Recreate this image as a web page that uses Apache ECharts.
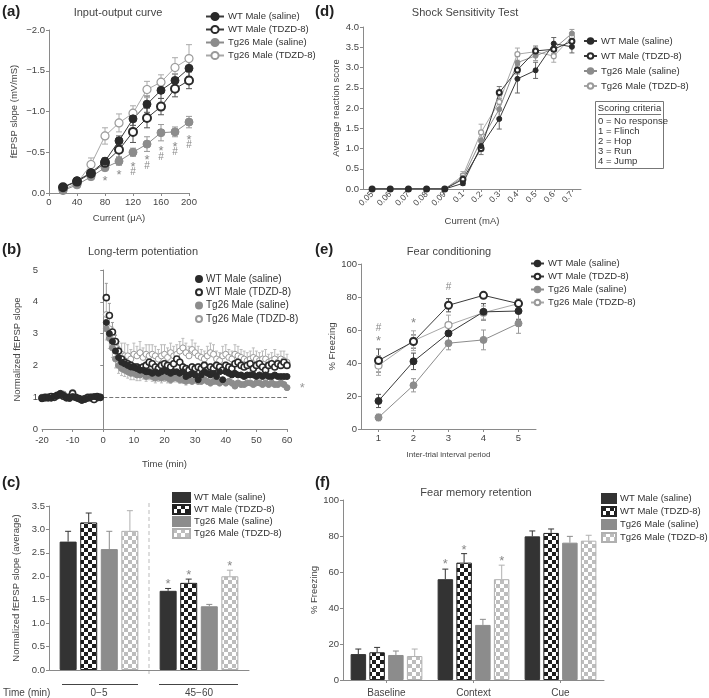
<!DOCTYPE html>
<html>
<head>
<meta charset="utf-8">
<script src="https://cdn.jsdelivr.net/npm/echarts@6/dist/echarts.min.js"></script>
<style>
html, body { margin: 0; padding: 0; background: #fff; }
#main { width: 709px; height: 698px; }
</style>
</head>
<body>
<div id="main"></div>
<script>
var names = ['WT Male (saline)', 'WT Male (TDZD-8)', 'Tg26 Male (saline)', 'Tg26 Male (TDZD-8)'];

// (a) input-output curve
var ioCurrent = [20, 40, 60, 80, 100, 120, 140, 160, 180, 200];
var ioWtSal = [-0.07, -0.15, -0.25, -0.39, -0.64, -0.91, -1.09, -1.26, -1.38, -1.53];
var ioWtTdzd = [-0.07, -0.14, -0.24, -0.37, -0.53, -0.75, -0.92, -1.06, -1.28, -1.38];
var ioTgSal = [-0.03, -0.10, -0.20, -0.31, -0.39, -0.50, -0.60, -0.74, -0.75, -0.87];
var ioTgTdzd = [-0.04, -0.12, -0.35, -0.70, -0.86, -0.98, -1.27, -1.36, -1.54, -1.65];
var ioErrWtSal = [0.02, 0.03, 0.03, 0.04, 0.06, 0.08, 0.1, 0.1, 0.08, 0.1];
var ioErrWtTdzd = [0.02, 0.02, 0.03, 0.04, 0.09, 0.13, 0.12, 0.1, 0.1, 0.1];
var ioErrTgSal = [0.01, 0.02, 0.02, 0.03, 0.05, 0.05, 0.09, 0.1, 0.06, 0.07];
var ioErrTgTdzd = [0.02, 0.03, 0.08, 0.1, 0.11, 0.09, 0.1, 0.09, 0.12, 0.17];
var ioMarks = [[80, -0.18, '*'], [100, -0.26, '*'], [120, -0.36, '*'], [120, -0.26, '#'],
  [140, -0.44, '*'], [140, -0.33, '#'], [160, -0.55, '*'], [160, -0.44, '#'],
  [180, -0.60, '*'], [180, -0.50, '#'], [200, -0.69, '*'], [200, -0.59, '#']];

// (d) shock sensitivity
var shockMA = ['0.05', '0.06', '0.07', '0.08', '0.09', '0.1', '0.2', '0.3', '0.4', '0.5', '0.6', '0.7'];
var shWtSal = [0, 0, 0, 0, 0, 0.14, 1.06, 1.73, 2.72, 2.93, 3.59, 3.51];
var shWtTdzd = [0, 0, 0, 0, 0, 0.24, 1.0, 2.38, 2.94, 3.41, 3.45, 3.65];
var shTgSal = [0, 0, 0, 0, 0, 0.28, 1.2, 1.97, 3.12, 3.29, 3.46, 3.84];
var shTgTdzd = [0, 0, 0, 0, 0, 0.33, 1.4, 2.15, 3.33, 3.39, 3.28, 3.76];
var shErrWtSal = [0, 0, 0, 0, 0, 0.05, 0.12, 0.25, 0.35, 0.2, 0.15, 0.15];
var shErrWtTdzd = [0, 0, 0, 0, 0, 0.08, 0.15, 0.15, 0.1, 0.12, 0.12, 0.1];
var shErrTgSal = [0, 0, 0, 0, 0, 0.1, 0.15, 0.2, 0.15, 0.12, 0.12, 0.1];
var shErrTgTdzd = [0, 0, 0, 0, 0, 0.1, 0.2, 0.15, 0.15, 0.1, 0.15, 0.1];

// (b) long-term potentiation
var ltpTimeBase = [-20, -19, -18, -17, -16, -15, -14, -13, -12, -11, -10, -9, -8, -7, -6, -5, -4, -3, -2, -1];
var ltpTimePost = [1, 2, 3, 4, 5, 6, 7, 8, 9, 10, 11, 12, 13, 14, 15, 16, 17, 18, 19, 20,
  21, 22, 23, 24, 25, 26, 27, 28, 29, 30, 31, 32, 33, 34, 35, 36, 37, 38, 39, 40,
  41, 42, 43, 44, 45, 46, 47, 48, 49, 50, 51, 52, 53, 54, 55, 56, 57, 58, 59, 60];
var ltpBaseWtSal = [0.95, 0.98, 1.0, 0.97, 1.03, 1.05, 1.12, 1.06, 1.0, 0.96, 1.02, 1.0, 0.95, 0.9, 0.93, 0.97, 1.0, 1.02, 1.0, 0.98];
var ltpBaseWtTdzd = [0.97, 1.0, 0.98, 1.02, 1.0, 1.06, 1.1, 1.03, 0.98, 1.0, 1.12, 1.0, 0.96, 0.92, 0.95, 1.0, 0.98, 0.93, 1.02, 1.0];
var ltpBaseTgSal = [1.0, 0.96, 1.0, 1.02, 0.98, 1.04, 1.08, 1.1, 1.0, 0.97, 1.05, 0.98, 0.95, 0.93, 0.96, 0.99, 1.02, 1.0, 0.97, 1.0];
var ltpBaseTgTdzd = [0.98, 1.0, 1.02, 0.97, 1.0, 1.03, 1.06, 1.02, 0.99, 1.04, 1.15, 0.98, 0.97, 0.95, 0.97, 0.96, 1.0, 0.92, 0.97, 1.0];
var ltpPostWtSal = [3.35, 3.0, 2.75, 2.45, 2.25, 2.1, 2.05, 2.0, 1.95, 1.95,
  1.9, 1.85, 1.85, 1.8, 1.8, 1.75, 1.8, 1.75, 1.8, 1.85,
  1.8, 1.75, 1.8, 1.8, 1.75, 1.8, 1.65, 1.7, 1.75, 1.7,
  1.55, 1.7, 1.8, 1.75, 1.7, 1.75, 1.65, 1.8, 1.55, 1.8,
  1.75, 1.7, 1.75, 1.7, 1.7, 1.65, 1.7, 1.7, 1.7, 1.65,
  1.7, 1.65, 1.7, 1.65, 1.65, 1.7, 1.65, 1.65, 1.65, 1.65];
var ltpPostWtTdzd = [4.13, 3.57, 3.05, 2.75, 2.45, 2.2, 2.1, 2.05, 2.0, 1.95,
  1.95, 1.9, 1.95, 2.0, 2.1, 2.05, 1.95, 1.9, 2.0, 2.05,
  2.0, 1.95, 2.05, 2.2, 2.1, 1.95, 1.9, 1.85, 1.95, 1.9,
  1.95, 1.9, 2.0, 1.85, 1.95, 1.9, 2.0, 1.95, 1.85, 2.0,
  1.95, 1.9, 2.05, 2.1, 2.0, 1.95, 2.0, 2.05, 1.9, 2.0,
  2.05, 1.95, 1.85, 2.0, 2.05, 1.95, 2.05, 2.0, 2.1, 2.0];
var ltpPostTgSal = [3.15, 2.85, 2.55, 2.2, 2.0, 1.9, 1.85, 1.8, 1.75, 1.75,
  1.7, 1.7, 1.75, 1.65, 1.7, 1.65, 1.6, 1.65, 1.6, 1.65,
  1.6, 1.55, 1.6, 1.6, 1.55, 1.55, 1.5, 1.55, 1.5, 1.55,
  1.5, 1.5, 1.55, 1.5, 1.45, 1.5, 1.5, 1.45, 1.5, 1.45,
  1.5, 1.45, 1.35, 1.45, 1.4, 1.4, 1.45, 1.45, 1.4, 1.45,
  1.45, 1.4, 1.45, 1.4, 1.45, 1.4, 1.4, 1.45, 1.4, 1.3];
var ltpPostTgTdzd = [3.6, 3.15, 2.8, 2.55, 2.4, 2.35, 2.3, 2.3, 2.2, 2.35,
  2.3, 2.4, 2.25, 2.35, 2.3, 2.35, 2.3, 2.2, 2.3, 2.35,
  2.25, 2.4, 2.3, 2.35, 2.45, 2.55, 2.4, 2.3, 2.5, 2.4,
  2.3, 2.25, 2.2, 2.3, 2.4, 2.35, 2.2, 2.15, 2.3, 2.35,
  2.25, 2.2, 2.35, 2.3, 2.25, 2.2, 2.15, 2.2, 2.25, 2.2,
  2.15, 2.2, 2.2, 2.1, 2.15, 2.2, 2.1, 2.2, 2.15, 2.1];
var ltpErrWtTdzd = [0.45, 0.38, 0.3, 0.2, 0.15, 0.12, 0.1, 0.1, 0.1, 0.1,
  0.1, 0.1, 0.1, 0.1, 0.1, 0.1, 0.1, 0.1, 0.1, 0.1,
  0.1, 0.1, 0.1, 0.12, 0.1, 0.1, 0.1, 0.1, 0.1, 0.1,
  0.1, 0.1, 0.1, 0.1, 0.1, 0.1, 0.1, 0.1, 0.1, 0.1,
  0.1, 0.1, 0.1, 0.1, 0.1, 0.1, 0.1, 0.1, 0.1, 0.1,
  0.1, 0.1, 0.1, 0.1, 0.1, 0.1, 0.1, 0.1, 0.1, 0.1];
var ltpErrTgSal = [0.35, 0.32, 0.3, 0.28, 0.25, 0.22, 0.2, 0.2, 0.2, 0.2,
  0.18, 0.18, 0.18, 0.15, 0.15, 0.15, 0.15, 0.15, 0.15, 0.15,
  0.15, 0.12, 0.12, 0.12, 0.12, 0.12, 0.12, 0.12, 0.1, 0.1,
  0.1, 0.1, 0.1, 0.1, 0.1, 0.1, 0.1, 0.1, 0.1, 0.1,
  0.1, 0.1, 0.08, 0.08, 0.08, 0.08, 0.08, 0.08, 0.08, 0.08,
  0.08, 0.08, 0.08, 0.08, 0.08, 0.08, 0.08, 0.08, 0.08, 0.08];
var ltpErrTgTdzd = [0.5, 0.45, 0.4, 0.4, 0.35, 0.35, 0.4, 0.35, 0.3, 0.35,
  0.3, 0.35, 0.3, 0.3, 0.35, 0.3, 0.3, 0.3, 0.35, 0.3,
  0.3, 0.3, 0.3, 0.3, 0.3, 0.3, 0.3, 0.3, 0.3, 0.3,
  0.3, 0.25, 0.25, 0.3, 0.3, 0.3, 0.25, 0.25, 0.3, 0.3,
  0.25, 0.25, 0.3, 0.3, 0.25, 0.25, 0.25, 0.25, 0.3, 0.25,
  0.25, 0.25, 0.3, 0.25, 0.25, 0.3, 0.25, 0.25, 0.3, 0.25];
var ltpMarks = [[65, 1.38, '*']];

// (e) fear conditioning
var fcPeriod = ['1', '2', '3', '4', '5'];
var fcWtSal = [17, 41, 58, 71, 71.5];
var fcWtTdzd = [41.5, 53, 75, 81, 76];
var fcTgSal = [7, 26.5, 52, 54, 64];
var fcTgTdzd = [38.5, 53.5, 63, 70.5, 76];
var fcErrWtSal = [4, 5, 5, 5, 5];
var fcErrWtTdzd = [7, 4, 4, 1.5, 2];
var fcErrTgSal = [2, 4, 4, 6, 6];
var fcErrTgTdzd = [6, 6, 6, 4, 3];
var fcMarks = [[0, 61, '#'], [0, 55, '*'], [1, 66, '*'], [2, 86, '#']];

// (c) averaged LTP
var avgWindow = ['0\u22125', '45\u221260'];
var avgWtSal = [2.74, 1.69];
var avgWtTdzd = [3.15, 1.86];
var avgTgSal = [2.58, 1.36];
var avgTgTdzd = [2.97, 2.0];
var avgErrWtSal = [0.22, 0.05];
var avgErrWtTdzd = [0.2, 0.08];
var avgErrTgSal = [0.38, 0.04];
var avgErrTgTdzd = [0.43, 0.13];
var avgMarks = [[1, 1.9, '*', 0], [1, 2.1, '*', 1], [1, 2.29, '*', 3]];

// (f) fear memory retention
var fmPhase = ['Baseline', 'Context', 'Cue'];
var fmWtSal = [14.4, 56, 79.8];
var fmWtTdzd = [15.4, 65.2, 81.7];
var fmTgSal = [13.9, 30.6, 76.3];
var fmTgTdzd = [13.3, 56, 77.4];
var fmErrWtSal = [2.8, 5.6, 3];
var fmErrWtTdzd = [2.7, 5, 2.2];
var fmErrTgSal = [2.2, 3.1, 3.5];
var fmErrTgTdzd = [3.9, 7.8, 3];
var fmMarks = [[1, 66, '*', 0], [1, 74, '*', 1], [1, 68, '*', 3]];

var FONT = '"Liberation Sans", Arial, sans-serif';
var AX = '#8a8a8a', TXT = '#444';

var pt = [
  { fill: '#2a2a2a', stroke: '#2a2a2a', bw: 1, line: '#3a3a3a', err: '#555' },
  { fill: '#ffffff', stroke: '#2a2a2a', bw: 2, line: '#3a3a3a', err: '#555' },
  { fill: '#8c8c8c', stroke: '#8c8c8c', bw: 1, line: '#8c8c8c', err: '#999' },
  { fill: '#ffffff', stroke: '#9a9a9a', bw: 1.2, line: '#a8a8a8', err: '#aaa' }
];

function checker(dark, light, s) {
  var c = document.createElement('canvas');
  c.width = c.height = 2 * s;
  var g = c.getContext('2d');
  g.fillStyle = light; g.fillRect(0, 0, 2 * s, 2 * s);
  g.fillStyle = dark; g.fillRect(0, 0, s, s); g.fillRect(s, s, s, s);
  return { image: c, repeat: 'repeat' };
}
var barSty = [
  { color: '#333333', border: '#333333' },
  { color: checker('#1e1e1e', '#ffffff', 4), border: '#222222' },
  { color: '#8c8c8c', border: '#8c8c8c' },
  { color: checker('#bdbdbd', '#ffffff', 4), border: '#b0b0b0' }
];

function tag(i, p) { return names[i] + '|' + p; }
function pairs(xs, ys) { return xs.map(function (x, k) { return [x, ys[k]]; }); }
function idx(arr) { return arr.map(function (v, k) { return k; }); }

function lineSeries(i, p, gi, xs, ys, size) {
  return {
    type: 'line', name: tag(i, p), xAxisIndex: gi, yAxisIndex: gi,
    data: pairs(xs, ys), symbol: 'circle', symbolSize: size, z: 4,
    itemStyle: { color: pt[i].fill, borderColor: pt[i].stroke, borderWidth: pt[i].bw },
    lineStyle: { color: pt[i].line, width: 1 }
  };
}

function errSeries(gi, xs, ys, up, dn, color, cap, off) {
  var items = xs.map(function (x, k) { return [x, ys[k], up ? up[k] : 0, dn ? dn[k] : 0]; });
  return {
    type: 'custom', xAxisIndex: gi, yAxisIndex: gi, data: items, silent: true, z: 2,
    renderItem: function (params, api) {
      var x = api.value(0), y = api.value(1), u = api.value(2), d = api.value(3);
      var a = api.coord([x, y + u]), b = api.coord([x, y - d]);
      var px = a[0] + (off || 0);
      var st = { stroke: color, lineWidth: 1 };
      var ch = [{ type: 'line', shape: { x1: px, y1: a[1], x2: px, y2: b[1] }, style: st }];
      if (u) ch.push({ type: 'line', shape: { x1: px - cap / 2, y1: a[1], x2: px + cap / 2, y2: a[1] }, style: st });
      if (d) ch.push({ type: 'line', shape: { x1: px - cap / 2, y1: b[1], x2: px + cap / 2, y2: b[1] }, style: st });
      return { type: 'group', children: ch };
    }
  };
}

function markSeries(gi, items, color, step) {
  return {
    type: 'custom', xAxisIndex: gi, yAxisIndex: gi, silent: true, z: 6, clip: false,
    data: items.map(function (d) { return [d[0], d[1]]; }),
    renderItem: function (params, api) {
      var it = items[params.dataIndex];
      var p = api.coord([api.value(0), api.value(1)]);
      var off = step ? (it[3] - 1.5) * step : 0;
      var star = it[2] === '*';
      return {
        type: 'text', x: p[0] + off, y: p[1] + (star ? 3.5 : 0),
        style: { text: it[2], fill: color, fontSize: star ? 13 : 10, fontFamily: FONT, align: 'center', verticalAlign: 'middle' }
      };
    }
  };
}

function ltpSeries(i, base, post, size, z) {
  return {
    type: 'scatter', name: tag(i, 'b'), xAxisIndex: 2, yAxisIndex: 2, z: z,
    data: pairs(ltpTimeBase, base).concat(pairs(ltpTimePost, post)),
    symbol: 'circle', symbolSize: size,
    itemStyle: { color: pt[i].fill, borderColor: pt[i].stroke, borderWidth: i === 1 ? 1.6 : 1, opacity: 1 }
  };
}

function barSeries(i, p, gi, vals, bw, gap) {
  return {
    type: 'bar', name: tag(i, p), xAxisIndex: gi, yAxisIndex: gi, data: vals,
    barWidth: bw, barGap: gap, z: 3,
    itemStyle: { color: barSty[i].color, borderColor: barSty[i].border, borderWidth: 1 }
  };
}

function legend(p, left, top, gap, iw, ih, fs, icon) {
  var l = {
    orient: 'vertical', left: left, top: top, padding: 0, itemGap: gap, itemWidth: iw, itemHeight: ih,
    data: names.map(function (n, i) { return tag(i, p); }),
    formatter: function (n) { return n.split('|')[0]; },
    textStyle: { fontSize: fs, color: '#333', fontFamily: FONT, padding: [0, 0, 0, -1] },
    selectedMode: false
  };
  if (icon) l.icon = icon;
  return l;
}

function vAxis(gi, o) {
  var a = {
    gridIndex: gi, type: 'value', nameLocation: 'middle',
    axisLine: { show: true, lineStyle: { color: AX } },
    axisTick: { show: true, length: 3, lineStyle: { color: AX } },
    axisLabel: { color: TXT, fontSize: 9.5, fontFamily: FONT, margin: 4 },
    splitLine: { show: false },
    nameTextStyle: { color: TXT, fontSize: 9.5, fontFamily: FONT }
  };
  for (var k in o) a[k] = o[k];
  return a;
}

var dec1 = function (v) { return v.toFixed(1); };

var chart = echarts.init(document.getElementById('main'));
var option = {
  animation: false,
  backgroundColor: '#fff',
  grid: [
    { left: 49, top: 30, width: 140, height: 163 },
    { left: 363, top: 27, width: 218, height: 162 },
    { left: 42, top: 270, width: 245, height: 159 },
    { left: 361, top: 264, width: 175, height: 165 },
    { left: 49, top: 506, width: 200, height: 168 },
    { left: 343, top: 500, width: 261, height: 180 }
  ],
  xAxis: [
    vAxis(0, { min: 0, max: 200, interval: 40, name: 'Current (\u03bcA)', nameGap: 20 }),
    vAxis(1, {
      type: 'category', data: shockMA, boundaryGap: true, name: 'Current (mA)', nameGap: 27,
      axisTick: { show: true, length: 3, alignWithLabel: true, lineStyle: { color: AX } },
      axisLabel: { color: TXT, fontSize: 8.5, fontFamily: FONT, rotate: 45, margin: 4, interval: 0 }
    }),
    vAxis(2, { min: -20, max: 60, interval: 10, name: 'Time (min)', nameGap: 30,
      axisLabel: { color: TXT, fontSize: 9.5, fontFamily: FONT, margin: 6 } }),
    vAxis(3, {
      type: 'category', data: fcPeriod, boundaryGap: true, name: 'Inter-trial interval period', nameGap: 22,
      axisTick: { show: true, length: 3, alignWithLabel: true, lineStyle: { color: AX } },
      nameTextStyle: { color: TXT, fontSize: 8, fontFamily: FONT }
    }),
    vAxis(4, {
      type: 'category', data: avgWindow, boundaryGap: true,
      axisTick: { show: false },
      axisLabel: { color: TXT, fontSize: 10, fontFamily: FONT, margin: 18 }
    }),
    vAxis(5, {
      type: 'category', data: fmPhase, boundaryGap: true,
      axisTick: { show: true, length: 3, alignWithLabel: true, lineStyle: { color: AX } },
      axisLabel: { color: TXT, fontSize: 10, fontFamily: FONT, margin: 8 }
    })
  ],
  yAxis: [
    vAxis(0, { min: -2, max: 0, interval: 0.5, inverse: true, name: 'fEPSP slope (mV/mS)', nameGap: 30,
      axisLabel: { color: TXT, fontSize: 9.5, fontFamily: FONT, margin: 4,
        formatter: function (v) { return v === 0 ? '0.0' : '\u2212' + Math.abs(v).toFixed(1); } } }),
    vAxis(1, { min: 0, max: 4, interval: 0.5, name: 'Average reaction score', nameGap: 22,
      axisLabel: { color: TXT, fontSize: 9.5, fontFamily: FONT, margin: 4, formatter: dec1 } }),
    vAxis(2, { min: 0, max: 5, interval: 1, name: 'Normalized fEPSP slope', nameGap: 20 }),
    vAxis(3, { min: 0, max: 100, interval: 20, name: '% Freezing', nameGap: 20 }),
    vAxis(4, { min: 0, max: 3.5, interval: 0.5, name: 'Normalized fEPSP slope (average)', nameGap: 28,
      axisLabel: { color: TXT, fontSize: 9.5, fontFamily: FONT, margin: 4, formatter: dec1 } }),
    vAxis(5, { min: 0, max: 100, interval: 20, name: '% Freezing', nameGap: 20 })
  ],
  legend: [
    legend('a', 205, 11.5, 3, 18, 9, 9.5),
    legend('d', 583, 36, 5, 13, 7, 9.5),
    legend('b', 195, 274, 3.3, 6, 6, 10),
    legend('e', 530, 258.5, 3, 13, 7, 9.5),
    legend('c', 172, 492, 1, 17, 9, 9.5, 'rect'),
    legend('f', 601, 493, 2, 14, 9, 9.5, 'rect')
  ],
  series: [
    // (a)
    errSeries(0, ioCurrent, ioWtSal, ioErrWtSal, ioErrWtSal, pt[0].err, 6),
    errSeries(0, ioCurrent, ioWtTdzd, ioErrWtTdzd, ioErrWtTdzd, pt[1].err, 6),
    errSeries(0, ioCurrent, ioTgSal, ioErrTgSal, ioErrTgSal, pt[2].err, 6),
    errSeries(0, ioCurrent, ioTgTdzd, ioErrTgTdzd, ioErrTgTdzd, pt[3].err, 6),
    lineSeries(3, 'a', 0, ioCurrent, ioTgTdzd, 8),
    lineSeries(2, 'a', 0, ioCurrent, ioTgSal, 8),
    lineSeries(1, 'a', 0, ioCurrent, ioWtTdzd, 8),
    lineSeries(0, 'a', 0, ioCurrent, ioWtSal, 8),
    markSeries(0, ioMarks, '#888'),
    // (d)
    errSeries(1, idx(shockMA), shWtSal, shErrWtSal, shErrWtSal, '#666', 5),
    errSeries(1, idx(shockMA), shWtTdzd, shErrWtTdzd, shErrWtTdzd, '#777', 5),
    errSeries(1, idx(shockMA), shTgSal, shErrTgSal, shErrTgSal, '#999', 5),
    errSeries(1, idx(shockMA), shTgTdzd, shErrTgTdzd, shErrTgTdzd, '#aaa', 5),
    lineSeries(3, 'd', 1, shockMA, shTgTdzd, 5),
    lineSeries(2, 'd', 1, shockMA, shTgSal, 5),
    lineSeries(1, 'd', 1, shockMA, shWtTdzd, 5),
    lineSeries(0, 'd', 1, shockMA, shWtSal, 5),
    // (b)
    errSeries(2, ltpTimePost, ltpPostTgTdzd, ltpErrTgTdzd, null, '#bbb', 3),
    errSeries(2, ltpTimePost, ltpPostTgSal, null, ltpErrTgSal, '#bbb', 3),
    errSeries(2, ltpTimePost, ltpPostWtTdzd, ltpErrWtTdzd, null, '#999', 3),
    ltpSeries(3, ltpBaseTgTdzd, ltpPostTgTdzd, 6, 3),
    ltpSeries(2, ltpBaseTgSal, ltpPostTgSal, 6, 4),
    ltpSeries(1, ltpBaseWtTdzd, ltpPostWtTdzd, 6, 5),
    ltpSeries(0, ltpBaseWtSal, ltpPostWtSal, 6, 6),
    {
      type: 'line', xAxisIndex: 2, yAxisIndex: 2, data: [], silent: true,
      markLine: {
        silent: true, symbol: 'none', label: { show: false },
        lineStyle: { type: 'dashed', color: '#777', width: 1 },
        data: [[{ coord: [0, 1] }, { coord: [60, 1] }]]
      }
    },
    markSeries(2, ltpMarks, '#999'),
    // (e)
    errSeries(3, idx(fcPeriod), fcWtSal, fcErrWtSal, fcErrWtSal, '#555', 5),
    errSeries(3, idx(fcPeriod), fcWtTdzd, fcErrWtTdzd, fcErrWtTdzd, '#555', 5),
    errSeries(3, idx(fcPeriod), fcTgSal, fcErrTgSal, fcErrTgSal, '#999', 5),
    errSeries(3, idx(fcPeriod), fcTgTdzd, fcErrTgTdzd, fcErrTgTdzd, '#aaa', 5),
    lineSeries(3, 'e', 3, fcPeriod, fcTgTdzd, 7),
    lineSeries(2, 'e', 3, fcPeriod, fcTgSal, 7),
    lineSeries(1, 'e', 3, fcPeriod, fcWtTdzd, 7),
    lineSeries(0, 'e', 3, fcPeriod, fcWtSal, 7),
    markSeries(3, fcMarks, '#888'),
    // (c)
    barSeries(0, 'c', 4, avgWtSal, 17, '21%'),
    barSeries(1, 'c', 4, avgWtTdzd, 17, '21%'),
    barSeries(2, 'c', 4, avgTgSal, 17, '21%'),
    barSeries(3, 'c', 4, avgTgTdzd, 17, '21%'),
    errSeries(4, idx(avgWindow), avgWtSal, avgErrWtSal, null, '#333', 6, -1.5 * 20.6),
    errSeries(4, idx(avgWindow), avgWtTdzd, avgErrWtTdzd, null, '#333', 6, -0.5 * 20.6),
    errSeries(4, idx(avgWindow), avgTgSal, avgErrTgSal, null, '#8c8c8c', 6, 0.5 * 20.6),
    errSeries(4, idx(avgWindow), avgTgTdzd, avgErrTgTdzd, null, '#b0b0b0', 6, 1.5 * 20.6),
    markSeries(4, avgMarks, '#888', 20.6),
    // (f)
    barSeries(0, 'f', 5, fmWtSal, 15.5, '21%'),
    barSeries(1, 'f', 5, fmWtTdzd, 15.5, '21%'),
    barSeries(2, 'f', 5, fmTgSal, 15.5, '21%'),
    barSeries(3, 'f', 5, fmTgTdzd, 15.5, '21%'),
    errSeries(5, idx(fmPhase), fmWtSal, fmErrWtSal, null, '#333', 6, -1.5 * 18.8),
    errSeries(5, idx(fmPhase), fmWtTdzd, fmErrWtTdzd, null, '#333', 6, -0.5 * 18.8),
    errSeries(5, idx(fmPhase), fmTgSal, fmErrTgSal, null, '#8c8c8c', 6, 0.5 * 18.8),
    errSeries(5, idx(fmPhase), fmTgTdzd, fmErrTgTdzd, null, '#b0b0b0', 6, 1.5 * 18.8),
    markSeries(5, fmMarks, '#888', 18.8)
  ],
  graphic: [
    { type: 'text', x: 2, y: 4, style: { text: '(a)', font: 'bold 15px ' + FONT, fill: '#222' } },
    { type: 'text', x: 315, y: 4, style: { text: '(d)', font: 'bold 15px ' + FONT, fill: '#222' } },
    { type: 'text', x: 2, y: 242, style: { text: '(b)', font: 'bold 15px ' + FONT, fill: '#222' } },
    { type: 'text', x: 315, y: 242, style: { text: '(e)', font: 'bold 15px ' + FONT, fill: '#222' } },
    { type: 'text', x: 2, y: 475, style: { text: '(c)', font: 'bold 15px ' + FONT, fill: '#222' } },
    { type: 'text', x: 315, y: 475, style: { text: '(f)', font: 'bold 15px ' + FONT, fill: '#222' } },
    { type: 'text', x: 118, y: 13, style: { text: 'Input-output curve', font: '11px ' + FONT, fill: '#444', align: 'center', verticalAlign: 'middle' } },
    { type: 'text', x: 465, y: 13, style: { text: 'Shock Sensitivity Test', font: '11px ' + FONT, fill: '#444', align: 'center', verticalAlign: 'middle' } },
    { type: 'text', x: 143, y: 252, style: { text: 'Long-term potentiation', font: '11px ' + FONT, fill: '#444', align: 'center', verticalAlign: 'middle' } },
    { type: 'text', x: 449, y: 252, style: { text: 'Fear conditioning', font: '11px ' + FONT, fill: '#444', align: 'center', verticalAlign: 'middle' } },
    { type: 'text', x: 476, y: 493, style: { text: 'Fear memory retention', font: '11px ' + FONT, fill: '#444', align: 'center', verticalAlign: 'middle' } },
    // scoring criteria box
    { type: 'rect', shape: { x: 595.5, y: 101.5, width: 68, height: 67 }, style: { fill: 'none', stroke: '#777', lineWidth: 1 } },
    { type: 'text', x: 629.5, y: 108, style: { text: 'Scoring criteria', font: '9.5px ' + FONT, fill: '#333', align: 'center', verticalAlign: 'middle' } },
    { type: 'line', shape: { x1: 598, y1: 114.5, x2: 661, y2: 114.5 }, style: { stroke: '#555', lineWidth: 0.8 } },
    { type: 'text', x: 598, y: 121, style: { text: '0 = No response', font: '9.5px ' + FONT, fill: '#333', verticalAlign: 'middle' } },
    { type: 'text', x: 598, y: 131, style: { text: '1 = Flinch', font: '9.5px ' + FONT, fill: '#333', verticalAlign: 'middle' } },
    { type: 'text', x: 598, y: 141, style: { text: '2 = Hop', font: '9.5px ' + FONT, fill: '#333', verticalAlign: 'middle' } },
    { type: 'text', x: 598, y: 151, style: { text: '3 = Run', font: '9.5px ' + FONT, fill: '#333', verticalAlign: 'middle' } },
    { type: 'text', x: 598, y: 161.5, style: { text: '4 = Jump', font: '9.5px ' + FONT, fill: '#333', verticalAlign: 'middle' } },
    // (c) window annotations
    { type: 'line', shape: { x1: 149, y1: 503, x2: 149, y2: 674 }, style: { stroke: '#bbb', lineWidth: 1, lineDash: [4, 3] } },
    { type: 'line', shape: { x1: 62, y1: 684.5, x2: 138, y2: 684.5 }, style: { stroke: '#444', lineWidth: 1 } },
    { type: 'line', shape: { x1: 159, y1: 684.5, x2: 238, y2: 684.5 }, style: { stroke: '#444', lineWidth: 1 } },
    { type: 'text', x: 3, y: 693, style: { text: 'Time (min)', font: '10px ' + FONT, fill: '#444', verticalAlign: 'middle' } }
  ]
};
chart.setOption(option);
</script>
</body>
</html>
